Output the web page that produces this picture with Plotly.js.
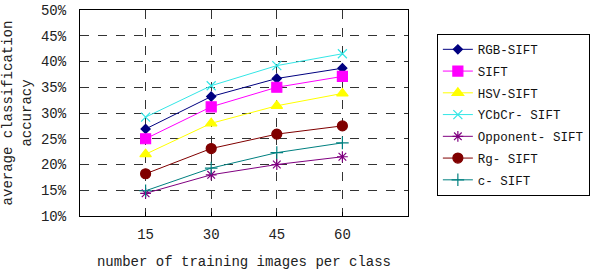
<!DOCTYPE html>
<html><head><meta charset="utf-8">
<script src="https://cdn.plot.ly/plotly-3.0.1.min.js"></script>
<style>body{margin:0;background:#fff}#chart{width:600px;height:272px}</style>
</head><body><div id="chart"></div>
<script>
const xValues = [15, 30, 45, 60];
const seriesNames = ["RGB-SIFT", "SIFT", "HSV-SIFT", "YCbCr- SIFT", "Opponent- SIFT", "Rg- SIFT", "c- SIFT"];
const rgbSift = [26.9, 33.2, 36.7, 38.7];
const sift = [25.0, 31.2, 35.0, 37.1];
const hsvSift = [22.0, 28.0, 31.4, 33.8];
const ycbcrSift = [29.2, 35.3, 39.2, 41.5];
const opponentSift = [14.4, 18.0, 20.0, 21.5];
const rgSift = [18.2, 23.1, 25.9, 27.5];
const cSift = [14.9, 19.3, 22.3, 24.2];
const yTicks = [10, 15, 20, 25, 30, 35, 40, 45, 50];

const seriesValues = [rgbSift, sift, hsvSift, ycbcrSift, opponentSift, rgSift, cSift];
const lineColors = ["#000080", "#FF00FF", "#FFFF00", "#33E6E6", "#800080", "#800000", "#008080"];
const markerColors = ["#000080", "#FF00FF", "#FFFF00", "#33E6E6", "#800080", "#800000", "#008080"];
const symbols = ["diamond", "square", "triangle-up", "x-thin-open", "asterisk-open", "circle", "cross-thin-open"];
const sizes = [7, 10, 10, 9, 9, 10, 9];

const font = "'Liberation Mono', 'DejaVu Sans Mono', monospace";

const traces = seriesNames.map((name, i) => ({
  x: xValues, y: seriesValues[i], name: name, type: "scatter", mode: "lines+markers",
  legendgroup: "g" + i,
  line: {color: lineColors[i], width: 1},
  marker: {symbol: symbols[i], color: markerColors[i], size: sizes[i],
           line: {color: markerColors[i], width: 1.2}}
}));

const layout = {
  width: 600, height: 272,
  margin: {l: 80, r: 190, t: 10, b: 56},
  paper_bgcolor: "#fff", plot_bgcolor: "#fff",
  font: {family: font, size: 14, color: "#222"},
  showlegend: true,
  legend: {
    x: 1.088, y: 0.885, xanchor: "left", yanchor: "top",
    bordercolor: "#000", borderwidth: 1, bgcolor: "#fff",
    font: {family: font, size: 12.5, color: "#111"},
    traceorder: "grouped", tracegroupgap: 2.5, itemwidth: 30
  },
  xaxis: {
    range: [0, 75], tickvals: xValues, ticktext: xValues.map(String),
    showgrid: true, gridcolor: "#333", griddash: "dash", gridwidth: 1,
    zeroline: false, showline: true, linecolor: "#000", mirror: true,
    ticks: "inside", ticklen: 4, tickcolor: "#000",
    ticklabelstandoff: 5,
    title: {text: "number of training images per class", font: {family: font, size: 14}, standoff: 14}
  },
  yaxis: {
    range: [10, 50], tickvals: yTicks, ticktext: yTicks.map(v => v + "%"),
    showgrid: true, gridcolor: "#333", griddash: "dash", gridwidth: 1,
    zeroline: false, showline: true, linecolor: "#000", mirror: true,
    ticks: "", ticklabelstandoff: 10,
    title: {text: "average classification<br>accuracy", font: {family: font, size: 14}, standoff: 6}
  }
};

Plotly.newPlot("chart", traces, layout, {displayModeBar: false, staticPlot: true});
</script></body></html>
